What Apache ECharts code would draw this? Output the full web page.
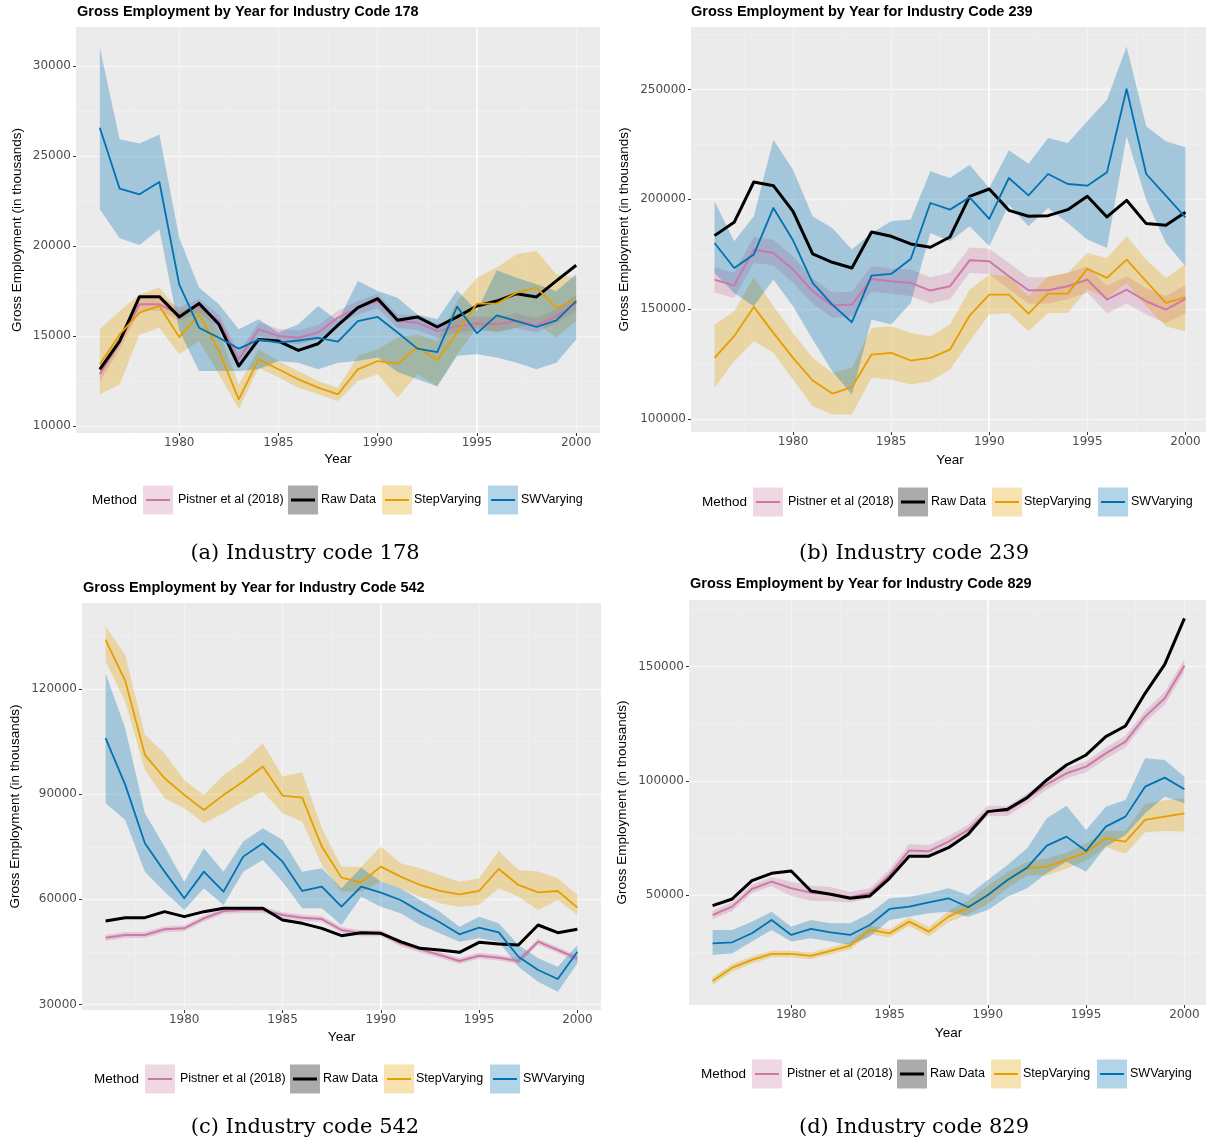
<!DOCTYPE html>
<html><head><meta charset="utf-8">
<script src="https://cdn.jsdelivr.net/npm/echarts@6/dist/echarts.min.js"></script>
<style>html,body{margin:0;padding:0;background:#fff}#c{width:1206px;height:1145px}</style>
</head><body><div id="c"></div>
<script>
// ---------- DATA ----------
const years = [1976,1977,1978,1979,1980,1981,1982,1983,1984,1985,1986,1987,1988,1989,1990,1991,1992,1993,1994,1995,1996,1997,1998,1999,2000];
const methods = ['Pistner et al (2018)','Raw Data','StepVarying','SWVarying'];
const xTicks = [1980,1985,1990,1995,2000];
const xMinor = [1977.5,1982.5,1987.5,1992.5,1997.5];

// Industry 178
const a_yTicks = [10000,15000,20000,25000,30000];
const a_yMinor = [12500,17500,22500,27500];
const a_raw  = [13150,14720,17185,17185,16060,16810,15650,13330,14810,14720,14200,14570,15600,16570,17070,15870,16060,15500,16060,16670,16940,17350,17170,18060,18930];
const a_pist = [12870,14630,16760,16760,16200,16670,15830,13700,15370,15000,14900,15190,16020,16570,16940,15830,15740,15280,15550,15690,15650,15830,15600,16110,16850];
const a_pist_lo = [12450,14250,16400,16400,15850,16300,15450,13300,15000,14650,14550,14800,15650,16200,16550,15450,15350,14900,15200,15300,15250,15450,15200,15700,16400];
const a_pist_hi = [13300,15050,17150,17150,16600,17050,16200,14100,15750,15400,15300,15600,16400,16950,17350,16200,16150,15700,15950,16100,16050,16250,16000,16500,17300];
const a_step = [13430,15090,16300,16670,14940,16200,14170,11480,13700,13150,12590,12130,11760,13150,13610,13460,14390,13650,15190,16800,16800,17410,17690,16570,16980];
const a_step_lo = [11760,12310,15090,15460,13980,14720,12870,10930,13240,12690,12130,11760,11390,12500,12870,11570,12870,12220,13980,15460,15190,15460,15740,14910,15830];
const a_step_hi = [15370,16390,17310,17690,16390,16760,15280,12310,14260,13610,13060,12500,12130,13890,14260,14910,15090,14720,16940,18240,18800,19540,19720,18430,18240];
const a_sw = [26574,23185,22870,23555,17870,15460,14900,14300,14800,14630,14750,14900,14690,15830,16060,15190,14300,14110,16630,15150,16150,15830,15500,15870,16940];
const a_sw_lo = [22040,20430,20060,20930,15300,13060,13060,13060,13150,13610,13520,13150,13520,13610,13800,13000,12600,12200,13900,13980,13800,13520,13150,13520,14810];
const a_sw_hi = [31020,25930,25690,26200,20460,17690,16760,15370,15930,15190,15650,16670,15830,18055,17500,17130,16200,15930,17540,16390,18650,18240,17870,17500,18430];

// Industry 239
const b_yTicks = [100000,150000,200000,250000];
const b_yMinor = [125000,175000,225000,275000];
const b_raw  = [183460,189530,207890,206220,194540,175110,171320,168740,185130,183160,179670,178150,182850,201370,204710,194990,192260,192560,195300,201370,191960,199550,188930,188170,194090];
const b_pist = [163430,160700,177090,175570,167980,158120,151590,152050,163730,162670,161910,158420,160400,172230,171780,164950,158570,158570,160400,163430,154330,158880,153570,149770,154630];
const b_pist_lo = [157500,155000,171000,170000,162000,152500,146000,146500,158000,157000,156000,152500,154500,166500,166000,159000,152500,152500,154500,157500,148000,152500,147500,143500,148000];
const b_pist_hi = [169000,166500,183000,181500,174000,164000,157500,158000,169500,168500,168000,164500,166500,178000,177500,171000,164500,164500,166500,169500,160500,165000,159500,156000,161000];
const b_step = [127770,137630,150990,139150,127770,117450,111530,114420,129290,130050,126560,127770,131560,147040,156600,156600,147950,157060,157060,168290,164190,172540,162670,152810,155390];
const b_step_lo = [114110,126250,135360,130050,117910,105770,101970,101970,118670,117910,115630,117150,122460,135360,147500,148260,139910,148260,148260,158880,155080,161910,151290,142190,139910];
const b_step_hi = [142940,149020,164640,151290,139150,127770,120940,123220,141430,142190,139150,137630,142940,158880,165710,164950,155840,164950,166470,175570,173290,183160,172540,164190,170260];
const b_sw = [180120,168740,174810,196060,181340,161910,152050,144010,165250,166010,172840,198330,195300,200910,191050,209710,201820,211530,206980,206220,212290,250230,211530,201670,191810];
const b_sw_lo = [166470,157360,151290,163430,151290,136120,121700,111080,145220,142940,152810,184680,180880,187710,178610,197570,187710,196060,189230,181640,177850,228680,199850,180120,169500];
const b_sw_hi = [199090,180880,192260,227170,213510,192260,186950,177090,184680,189990,190750,212750,209710,215780,205160,222310,216240,227920,225650,235510,245380,269650,233240,226410,223680];

// Industry 542
const c_yTicks = [30000,60000,90000,120000];
const c_yMinor = [45000,75000,105000,135000];
const c_raw  = [53810,54760,54760,56480,55050,56480,57430,57430,57430,54100,53140,51710,49620,50480,50290,47900,46000,45520,44860,47710,47240,46950,52670,50480,51430];
const c_pist = [49050,49810,49810,51430,51710,54570,56670,56950,56950,55520,54760,54380,51240,50290,50290,47430,45710,44100,42380,43900,43330,42380,47900,45520,43140];
const c_pist_lo = [48200,48950,48950,50550,50850,53700,55800,56100,56100,54650,53900,53500,50400,49450,49450,46600,44850,43250,41550,43050,42500,41550,47050,44650,42250];
const c_pist_hi = [49900,50650,50650,52300,52550,55400,57500,57800,57800,56400,55600,55250,52100,51150,51150,48300,46550,44950,43250,44750,44200,43250,48750,46400,44000];
const c_step = [134100,122380,101240,94570,89810,85520,89810,93620,97910,89620,89050,75050,66190,64860,69330,66480,64100,62380,61430,62380,68670,64100,62000,62380,57620];
const c_step_lo = [127900,116480,96950,88860,86000,81710,84570,87900,90760,84570,82190,69810,62190,62190,65050,63140,60760,58860,57910,58380,63140,60760,56950,59810,55520];
const c_step_hi = [137900,129810,106950,101710,94100,89810,95520,99330,104570,95050,96290,80290,69330,69330,75050,70290,68860,66950,65050,66000,73810,68380,67910,66000,61240];
const c_sw = [106000,92670,76000,67900,60290,67900,62190,72190,76000,70760,62380,63620,57900,63620,61900,59810,56480,53430,50000,51900,50570,43620,39810,37240,45050];
const c_sw_lo = [87430,82670,67900,62190,56950,63140,58380,67900,71240,65050,57430,57430,52670,60760,57910,56000,52670,50290,47900,48860,47900,40760,36480,33620,41710];
const c_sw_hi = [124570,108860,84570,75050,65050,74570,67900,76480,80290,76950,67900,68860,63140,69050,65050,63140,59810,56480,52190,55050,53140,46950,43140,40760,46950];

// Industry 829
const d_yTicks = [50000,100000,150000];
const d_yMinor = [25000,75000,125000,175000];
const d_raw  = [45330,48250,56280,59490,60510,51750,50290,48540,49560,57300,67000,67000,70730,76570,86500,87520,92630,100370,106940,111320,119350,124020,138330,151030,171180];
const d_pist = [41240,44890,52630,55840,52920,51020,50440,48980,50730,58760,69500,69200,73360,78470,86790,86790,92340,98470,103290,106210,112050,117160,128110,136140,150450];
const d_pist_lo = [39400,43000,50700,53900,49500,47500,47200,46700,48600,56300,66700,66600,70900,76100,84500,84600,90100,96200,101000,103800,109600,114600,125500,133300,147500];
const d_pist_hi = [43100,46800,54600,57800,55800,54000,53500,51300,52900,61200,72300,71800,75800,80800,89100,89000,94600,100700,105600,108600,114500,119700,130700,139000,153400];
const d_step = [12330,18170,21530,24160,24160,23280,25470,27810,34670,33210,38320,33940,40510,44450,50000,56570,61680,62410,65330,68690,74820,73360,82850,84310,85770];
const d_step_lo = [10600,16500,20000,22700,22700,21800,24000,26100,32800,31400,36400,31800,38000,41500,46000,53000,58500,58500,61500,65000,71000,68000,77500,78000,77800];
const d_step_hi = [14000,19800,23000,25600,25600,24800,27000,29500,36500,35000,40200,36000,43000,47500,54000,60000,64500,66000,68500,72500,78000,78000,90000,91500,92400];
const d_sw = [28830,29270,33210,39050,32480,35110,33650,32480,36860,43870,44890,46790,48540,44600,50000,56570,61970,71610,75550,69270,79930,84310,97450,101390,96280];
const d_sw_lo = [23720,24450,29560,34670,29560,31020,29560,28100,31750,39050,40510,41970,42700,40510,43430,49270,52920,59490,64600,60220,71170,76280,85770,93070,90150];
const d_sw_hi = [34670,34670,38320,42700,36130,39050,37590,37590,41970,48540,49270,50730,52920,50000,56570,63140,70440,83580,89130,78470,88690,91610,109860,109130,101830];

// ---------- LAYOUT / STYLE ----------
const COL = {pink:'#CC79A7', black:'#000000', yellow:'#E69F00', blue:'#0072B2'};
const FILL = {pink:'rgba(204,121,167,0.30)', black:'rgba(0,0,0,0.33)', yellow:'rgba(230,159,0,0.30)', blue:'rgba(0,114,178,0.30)'};
const SANS = 'Liberation Sans, Arial, sans-serif';

const panels = [
  {code:'178', caption:'(a) Industry code 178', grid:{left:76, top:27, width:524, height:406}, ymin:9611, ymax:32167,
   yTicks:a_yTicks, yMinor:a_yMinor, whiteX:1995, gapY:52, gapX:19, title:[77,12], legend:[92,500], cap:[305,554],
   raw:a_raw, pist:[a_pist,a_pist_lo,a_pist_hi], step:[a_step,a_step_lo,a_step_hi], sw:[a_sw,a_sw_lo,a_sw_hi]},
  {code:'239', caption:'(b) Industry code 239', grid:{left:691, top:27, width:518, height:405}, ymin:94000, ymax:278500,
   yTicks:b_yTicks, yMinor:b_yMinor, whiteX:1990, gapY:60, gapX:21, title:[691,12], legend:[702,502], cap:[914,554],
   raw:b_raw, pist:[b_pist,b_pist_lo,b_pist_hi], step:[b_step,b_step_lo,b_step_hi], sw:[b_sw,b_sw_lo,b_sw_hi]},
  {code:'542', caption:'(c) Industry code 542', grid:{left:82, top:603, width:519, height:407}, ymin:28400, ymax:144600,
   yTicks:c_yTicks, yMinor:c_yMinor, whiteX:1990, gapY:60, gapX:20, title:[83,588], legend:[94,1079], cap:[305,1128],
   raw:c_raw, pist:[c_pist,c_pist_lo,c_pist_hi], step:[c_step,c_step_lo,c_step_hi], sw:[c_sw,c_sw_lo,c_sw_hi]},
  {code:'829', caption:'(d) Industry code 829', grid:{left:689, top:600, width:519, height:405}, ymin:1800, ymax:179200,
   yTicks:d_yTicks, yMinor:d_yMinor, whiteX:1990, gapY:60, gapX:21, title:[690,584], legend:[701,1074], cap:[914,1128],
   raw:d_raw, pist:[d_pist,d_pist_lo,d_pist_hi], step:[d_step,d_step_lo,d_step_hi], sw:[d_sw,d_sw_lo,d_sw_hi]}
];

function zip(vals){ return years.map((y,i)=>[y, vals[i]]); }

function bandSeries(gi, lo, hi, color){
  return {type:'custom', xAxisIndex:gi, yAxisIndex:gi, z:10, silent:true, clip:false,
    data:[[years[0], lo[0]]],
    renderItem:function(params, api){
      const pts=[];
      for(let k=0;k<years.length;k++) pts.push(api.coord([years[k], hi[k]]));
      for(let k=years.length-1;k>=0;k--) pts.push(api.coord([years[k], lo[k]]));
      return {type:'polygon', shape:{points:pts}, style:{fill:color}};
    }};
}
function lineSeries(gi, vals, color, width, name){
  return {type:'line', name:name, xAxisIndex:gi, yAxisIndex:gi, z:11, silent:true, data:zip(vals),
    symbol:'none', showSymbol:false, lineStyle:{color:color, width:width, join:'round'}};
}
function gridSeries(gi, p){
  const d=[];
  p.yMinor.forEach(v=>d.push({yAxis:v, lineStyle:{color:'#f1f1f1', width:0.8, type:'solid'}}));
  p.yTicks.forEach(v=>d.push({yAxis:v, lineStyle:{color:'#f6f6f6', width:1.3, type:'solid'}}));
  xMinor.forEach(v=>d.push({xAxis:v, lineStyle:{color:'#f0f0f0', width:0.8, type:'solid'}}));
  xTicks.forEach(v=>d.push({xAxis:v, lineStyle:{color: v===p.whiteX ? '#ffffff' : '#f4f4f4', width: v===p.whiteX ? 1.6 : 1.2, type:'solid'}}));
  return {type:'line', xAxisIndex:gi, yAxisIndex:gi, z:1, silent:true, data:[[years[0], p.ymin]], symbol:'none',
    lineStyle:{opacity:0}, markLine:{z:1, silent:true, animation:false, symbol:['none','none'], label:{show:false}, data:d}};
}

const grids=[], xAxes=[], yAxes=[], series=[], graphics=[];
panels.forEach((p,gi)=>{
  grids.push(Object.assign({show:true, backgroundColor:'#ebebeb', borderWidth:0, containLabel:false, outerBoundsMode:'none'}, p.grid));
  xAxes.push({type:'value', gridIndex:gi, min:1974.8, max:2001.2,
    axisLine:{show:false}, splitLine:{show:false},
    axisTick:{show:true, length:3, lineStyle:{color:'#333333', width:1}, customValues:xTicks},
    axisLabel:{customValues:xTicks, color:'#4d4d4d', fontFamily:'DejaVu Sans', fontSize:12, margin:4, formatter:v=>String(v)},
    name:'Year', nameLocation:'middle', nameGap:p.gapX, nameTextStyle:{color:'#000', fontSize:13.5, fontFamily:SANS}});
  yAxes.push({type:'value', gridIndex:gi, min:p.ymin, max:p.ymax,
    axisLine:{show:false}, splitLine:{show:false},
    axisTick:{show:true, length:3, lineStyle:{color:'#333333', width:1}, customValues:p.yTicks},
    axisLabel:{customValues:p.yTicks, color:'#4d4d4d', fontFamily:'DejaVu Sans', fontSize:12, margin:5, formatter:v=>String(v)},
    name:'Gross Employment (in thousands)', nameLocation:'middle', nameGap:p.gapY, nameRotate:90,
    nameTextStyle:{color:'#000', fontSize:13.5, fontFamily:SANS}});
  series.push(gridSeries(gi,p));
  series.push(bandSeries(gi, p.pist[1], p.pist[2], FILL.pink));
  series.push(bandSeries(gi, p.step[1], p.step[2], FILL.yellow));
  series.push(bandSeries(gi, p.sw[1], p.sw[2], FILL.blue));
  series.push(lineSeries(gi, p.pist[0], COL.pink, 2, methods[0]));
  series.push(lineSeries(gi, p.raw, COL.black, 3, methods[1]));
  series.push(lineSeries(gi, p.step[0], COL.yellow, 1.8, methods[2]));
  series.push(lineSeries(gi, p.sw[0], COL.blue, 1.8, methods[3]));

  // title
  graphics.push({type:'text', x:p.title[0], y:p.title[1], silent:true,
    style:{text:'Gross Employment by Year for Industry Code '+p.code, fontSize:14.5, fontWeight:'bold', fontFamily:SANS, fill:'#000', align:'left', verticalAlign:'middle'}});
  // caption
  graphics.push({type:'text', x:p.cap[0], y:p.cap[1], silent:true,
    style:{text:p.caption, fontSize:21, fontFamily:'DejaVu Serif, serif', fill:'#000', align:'center', verticalAlign:'middle'}});
  // legend
  const B=p.legend[0], yc=p.legend[1];
  graphics.push({type:'text', x:B, y:yc, silent:true, style:{text:'Method', fontSize:13.5, fontFamily:SANS, fill:'#000', align:'left', verticalAlign:'middle'}});
  const keyOff=[51,196,290,396], txtOff=[86,229,322,429];
  const keys=['pink','black','yellow','blue'];
  keys.forEach((k,i)=>{
    const kx=B+keyOff[i];
    graphics.push({type:'rect', silent:true, shape:{x:kx, y:yc-14.5, width:30, height:29}, style:{fill:FILL[k]}});
    graphics.push({type:'line', silent:true, shape:{x1:kx+3, y1:yc, x2:kx+27, y2:yc}, style:{stroke:COL[k], lineWidth:k==='black'?3:2}});
    graphics.push({type:'text', x:B+txtOff[i], y:yc, silent:true, style:{text:methods[i], fontSize:12.5, fontFamily:SANS, fill:'#000', align:'left', verticalAlign:'middle'}});
  });
});

const chart = echarts.init(document.getElementById('c'), null, {renderer:'canvas', width:1206, height:1145});
chart.setOption({backgroundColor:'#ffffff', animation:false, grid:grids, xAxis:xAxes, yAxis:yAxes, series:series, graphic:graphics});
</script></body></html>
